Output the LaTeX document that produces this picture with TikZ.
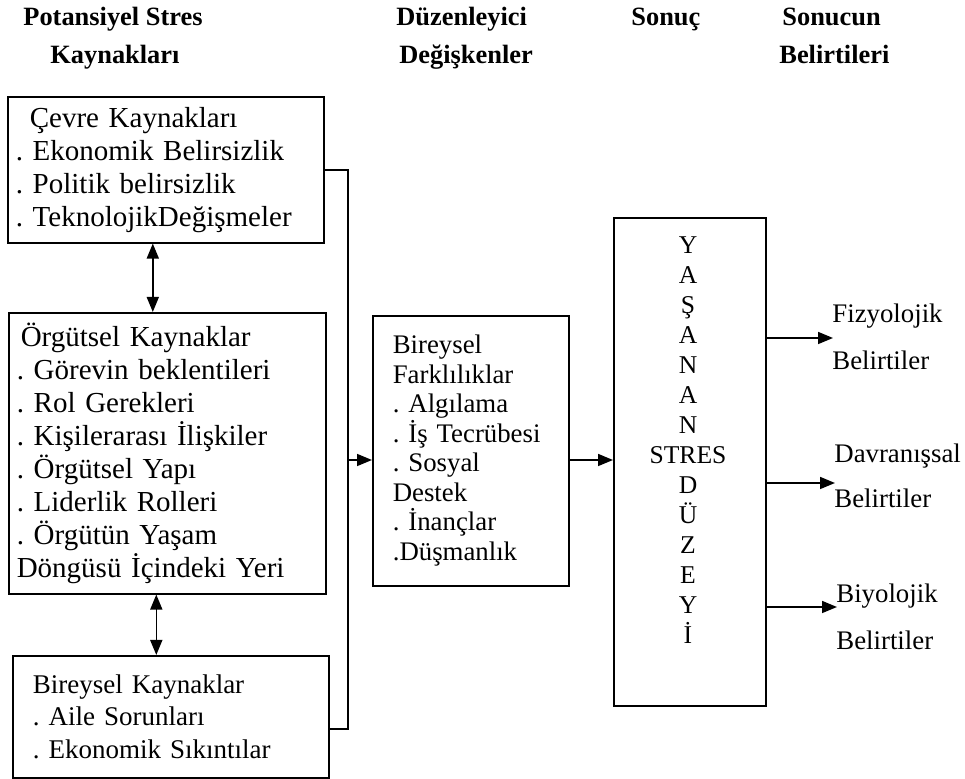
\documentclass[tikz,border=0pt]{standalone}
\usepackage{fontspec}
\setmainfont{Liberation Serif}
\usetikzlibrary{arrows.meta, positioning, calc}
\frenchspacing
\tikzstyle{arrow} = [line width=0.8pt, -{Triangle[length=7.5pt,width=6pt]}]
\tikzstyle{darrow} = [line width=0.8pt, {Triangle[length=7.5pt,width=6pt]}-{Triangle[length=7.5pt,width=6pt]}]
\tikzstyle{kutu} = [draw, line width=0.8pt, align=left, anchor=north west, inner xsep=4pt, inner ysep=0pt]
\tikzstyle{baslik} = [anchor=base west, inner sep=0pt, font=\bfseries\fontsize{13.2}{15}\selectfont]

\begin{document}
\begin{tikzpicture}[x=0.5pt, y=-0.5pt, font=\fontsize{14.5}{16.5}\selectfont]
    \useasboundingbox (0,0) rectangle (965,779);

    % Headers
    \node[baslik] (kaynak1) at (23,26) {Potansiyel Stres};
    \node[baslik] (kaynak2) at (50,64) {Kaynakları};
    \node[baslik] (duzen1) at (396,26) {Düzenleyici};
    \node[baslik] (duzen2) at (399,64) {Değişkenler};
    \node[baslik] (sonuc) at (631,26) {Sonuç};
    \node[baslik] (belirti1) at (782,26) {Sonucun};
    \node[baslik] (belirti2) at (779,64) {Belirtileri};

    % Potential sources
    \node[kutu, text width=150pt, minimum height=73pt] (cevre) at (7,96)
        {\hspace{7pt}Çevre Kaynakları\\. Ekonomik Belirsizlik\\. Politik belirsizlik\\. TeknolojikDeğişmeler};
    \node[kutu, text width=150.5pt, minimum height=140.5pt] (orgut) at (8,312)
        {\hspace{2pt}Örgütsel Kaynaklar\\. Görevin beklentileri\\. Rol Gerekleri\\. Kişilerarası İlişkiler\\. Örgütsel Yapı\\. Liderlik Rolleri\\. Örgütün Yaşam\\Döngüsü İçindeki Yeri};
    \node[kutu, text width=138pt, minimum height=61pt, inner xsep=10pt, font=\fontsize{13.5}{16.3}\selectfont] (bireysel) at (12,655)
        {Bireysel Kaynaklar\\. Aile Sorunları\\. Ekonomik Sıkıntılar};

    % Moderating variables
    \node[kutu, text width=88pt, minimum height=135pt, inner xsep=5pt, font=\fontsize{13.4}{14.75}\selectfont] (fark) at (372,315)
        {\hspace{5pt}Bireysel\\\hspace{5pt}Farklılıklar\\\hspace{5pt}. Algılama\\\hspace{5pt}. İş Tecrübesi\\\hspace{5pt}. Sosyal\\\hspace{5pt}Destek\\\hspace{5pt}. İnançlar\\\hspace{5pt}.Düşmanlık};

    % Experienced stress
    \node[draw, line width=0.8pt, anchor=north west, minimum width=76pt, minimum height=244pt] (stres) at (613,217) {};
    \node[align=center, font=\fontsize{12.8}{15}\selectfont] (harfler) at (688,440)
        {Y\\A\\Ş\\A\\N\\A\\N\\STRES\\D\\Ü\\Z\\E\\Y\\İ};

    % Symptoms
    \node[anchor=west, align=left, inner sep=0pt, font=\fontsize{13.4}{16.5}\selectfont] (fiz) at (832,336.5) {Fizyolojik\\[7pt]Belirtiler};
    \node[anchor=west, align=left, inner sep=0pt, font=\fontsize{13.4}{16.5}\selectfont] (dav) at (834,475.5) {Davranışsal\\[6pt]Belirtiler};
    \node[anchor=west, align=left, inner sep=0pt, font=\fontsize{13.4}{16.5}\selectfont] (biy) at (836,616.5) {Biyolojik\\[7pt]Belirtiler};
    \coordinate (ucfiz) at (833,338);
    \coordinate (ucdav) at (835,483);
    \coordinate (ucbiy) at (837,607);

    % Arrows
    \coordinate (hat) at (348,460);
    \draw[darrow] ([xshift=-6.5pt]cevre.south) -- ([xshift=-6.5pt]cevre.south |- orgut.north);
    \draw[darrow] ([xshift=-5.5pt]orgut.south) -- ([xshift=-5.5pt]orgut.south |- bireysel.north);
    \draw[line width=0.8pt] (cevre.east) -| (hat) |- ([yshift=-6pt]bireysel.east);
    \draw[arrow] (hat) -- (hat -| fark.west);
    \draw[arrow] (fark.east |- hat) -- (stres.west |- hat);
    \draw[arrow] (stres.east |- ucfiz) -- (ucfiz);
    \draw[arrow] (stres.east |- ucdav) -- (ucdav);
    \draw[arrow] (stres.east |- ucbiy) -- (ucbiy);
\end{tikzpicture}
\end{document}
